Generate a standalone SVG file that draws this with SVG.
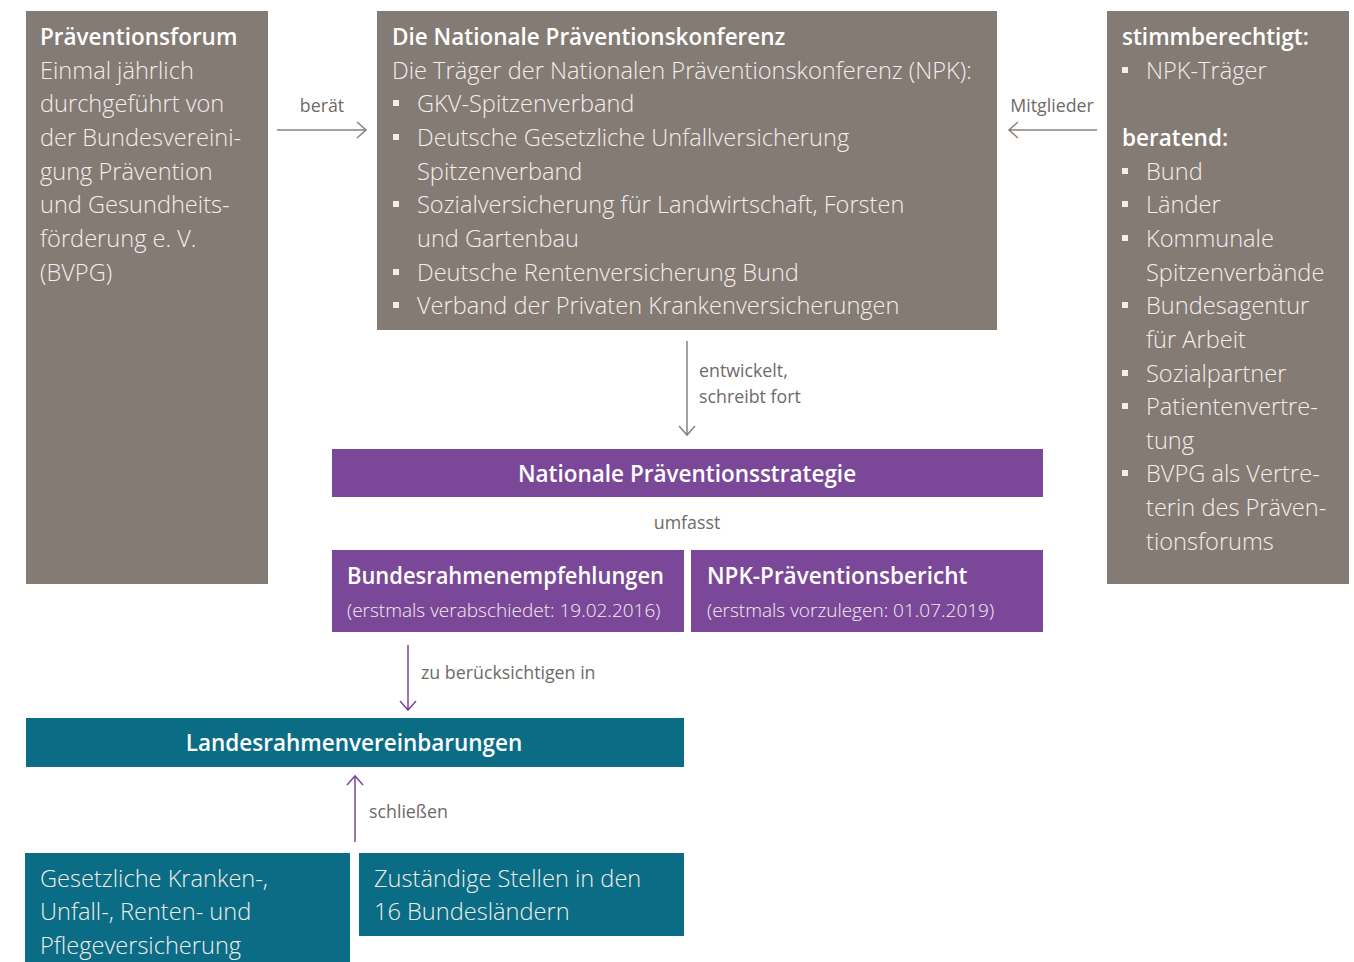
<svg xmlns="http://www.w3.org/2000/svg" width="1354" height="962" viewBox="0 0 1354 962">
<defs>
<style>
.gray{fill:#857b75}
.purple{fill:#7b4899}
.teal{fill:#0a6d85}
.t{font-family:"Open Sans","Liberation Sans",sans-serif;font-weight:300;font-size:23.6px;fill:#f2eeea}
.h{font-family:"Open Sans","Liberation Sans",sans-serif;font-weight:600;font-size:22.5px;fill:#ffffff}
.sub{font-family:"Open Sans","Liberation Sans",sans-serif;font-weight:300;font-size:19px;fill:#f2eeea}
.lbl{font-family:"Open Sans","Liberation Sans",sans-serif;font-weight:400;font-size:17.8px;fill:#6e6a68}
.bul{fill:#f2eeea}
.ga{stroke:#8a817b;stroke-width:1.5;fill:none}
.pa{stroke:#7b4899;stroke-width:1.5;fill:none}
</style>
</defs>

<g id="praeventionsforum">
<rect class="gray" x="26" y="11" width="242" height="573"/>
<text class="h" x="40" y="45">Präventionsforum</text>
<text class="t" x="40" y="79">Einmal jährlich</text>
<text class="t" x="40" y="112">durchgeführt von</text>
<text class="t" x="40" y="146">der Bundesvereini-</text>
<text class="t" x="40" y="180">gung Prävention</text>
<text class="t" x="40" y="213">und Gesundheits-</text>
<text class="t" x="40" y="247">förderung e. V.</text>
<text class="t" x="40" y="281">(BVPG)</text>
</g>

<g id="npk">
<rect class="gray" x="377" y="11" width="620" height="319"/>
<text class="h" x="392" y="45">Die Nationale Präventionskonferenz</text>
<text class="t" x="392" y="79">Die Träger der Nationalen Präventionskonferenz (NPK):</text>
<rect class="bul" x="393" y="100" width="6" height="6"/>
<text class="t" x="417" y="112">GKV-Spitzenverband</text>
<rect class="bul" x="393" y="134" width="6" height="6"/>
<text class="t" x="417" y="146">Deutsche Gesetzliche Unfallversicherung</text>
<text class="t" x="417" y="180">Spitzenverband</text>
<rect class="bul" x="393" y="201" width="6" height="6"/>
<text class="t" x="417" y="213">Sozialversicherung für Landwirtschaft, Forsten</text>
<text class="t" x="417" y="247">und Gartenbau</text>
<rect class="bul" x="393" y="269" width="6" height="6"/>
<text class="t" x="417" y="281">Deutsche Rentenversicherung Bund</text>
<rect class="bul" x="393" y="302" width="6" height="6"/>
<text class="t" x="417" y="314">Verband der Privaten Krankenversicherungen</text>
</g>

<g id="mitglieder">
<rect class="gray" x="1107" y="11" width="242" height="573"/>
<text class="h" x="1122" y="45">stimmberechtigt:</text>
<rect class="bul" x="1122" y="67" width="6" height="6"/>
<text class="t" x="1146" y="79">NPK-Träger</text>
<text class="h" x="1122" y="146">beratend:</text>
<rect class="bul" x="1122" y="168" width="6" height="6"/>
<text class="t" x="1146" y="180">Bund</text>
<rect class="bul" x="1122" y="201" width="6" height="6"/>
<text class="t" x="1146" y="213">Länder</text>
<rect class="bul" x="1122" y="235" width="6" height="6"/>
<text class="t" x="1146" y="247">Kommunale</text>
<text class="t" x="1146" y="281">Spitzenverbände</text>
<rect class="bul" x="1122" y="302" width="6" height="6"/>
<text class="t" x="1146" y="314">Bundesagentur</text>
<text class="t" x="1146" y="348">für Arbeit</text>
<rect class="bul" x="1122" y="370" width="6" height="6"/>
<text class="t" x="1146" y="382">Sozialpartner</text>
<rect class="bul" x="1122" y="403" width="6" height="6"/>
<text class="t" x="1146" y="415">Patientenvertre-</text>
<text class="t" x="1146" y="449">tung</text>
<rect class="bul" x="1122" y="470" width="6" height="6"/>
<text class="t" x="1146" y="482">BVPG als Vertre-</text>
<text class="t" x="1146" y="516">terin des Präven-</text>
<text class="t" x="1146" y="550">tionsforums</text>
</g>

<g id="strategie">
<rect class="purple" x="332" y="449" width="711" height="48"/>
<text class="h" x="687" y="482" text-anchor="middle">Nationale Präventionsstrategie</text>
</g>

<g id="bundesrahmen">
<rect class="purple" x="332" y="550" width="352" height="82"/>
<text class="h" x="347" y="584" textLength="317" lengthAdjust="spacingAndGlyphs">Bundesrahmenempfehlungen</text>
<text class="sub" x="347" y="617">(erstmals verabschiedet: 19.02.2016)</text>
</g>

<g id="bericht">
<rect class="purple" x="691" y="550" width="352" height="82"/>
<text class="h" x="707" y="584">NPK-Präventionsbericht</text>
<text class="sub" x="707" y="617">(erstmals vorzulegen: 01.07.2019)</text>
</g>

<g id="landesrahmen">
<rect class="teal" x="26" y="718" width="658" height="49"/>
<text class="h" x="354" y="751" text-anchor="middle">Landesrahmenvereinbarungen</text>
</g>

<g id="versicherung">
<rect class="teal" x="25" y="853" width="325" height="109"/>
<text class="t" x="40" y="887">Gesetzliche Kranken-,</text>
<text class="t" x="40" y="920">Unfall-, Renten- und</text>
<text class="t" x="40" y="954">Pflegeversicherung</text>
</g>

<g id="stellen">
<rect class="teal" x="359" y="853" width="325" height="83"/>
<text class="t" x="374" y="887">Zuständige Stellen in den</text>
<text class="t" x="374" y="920">16 Bundesländern</text>
</g>

<g id="connectors">
<path class="ga" d="M277 130H366M357 122L366 130L357 138"/>
<text class="lbl" x="322" y="112" text-anchor="middle">berät</text>
<path class="ga" d="M1097 130H1009M1018 122L1009 130L1018 138"/>
<text class="lbl" x="1052" y="112" text-anchor="middle">Mitglieder</text>
<path class="ga" d="M687 341V435M679 426L687 435L695 426"/>
<text class="lbl" x="699" y="377">entwickelt,</text>
<text class="lbl" x="699" y="403">schreibt fort</text>
<text class="lbl" x="687" y="529" text-anchor="middle">umfasst</text>
<path class="pa" d="M408 645V710M400 701L408 710L416 701"/>
<text class="lbl" x="421" y="679">zu berücksichtigen in</text>
<path class="pa" d="M355 842V776M347 785L355 776L363 785"/>
<text class="lbl" x="369" y="818">schließen</text>
</g>
</svg>
